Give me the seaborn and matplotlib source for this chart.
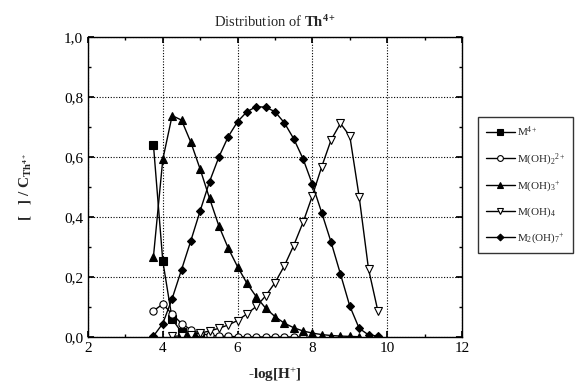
import matplotlib
matplotlib.use("Agg")
import matplotlib.pyplot as plt
import seaborn as sns
import pandas as pd
from matplotlib.ticker import MultipleLocator, FuncFormatter

# ---- data ----
ph_m4 = [3.75, 4.0, 4.25, 4.5, 4.75, 5.0]
m4 = [0.64, 0.253, 0.06, 0.016, 0.005, 0.001]

ph_oh2 = [3.75, 4.0, 4.25, 4.5, 4.75, 5.0, 5.25, 5.5, 5.75, 6.0, 6.25, 6.5, 6.75, 7.0, 7.25, 7.5, 7.75]
oh2 = [0.087, 0.11, 0.076, 0.045, 0.024, 0.012, 0.006, 0.003, 0.002, 0.001, 0.0, 0.0, 0.0, 0.0, 0.0, 0.0, 0.0]

ph_oh3 = [3.75, 4.0, 4.25, 4.5, 4.75, 5.0, 5.25, 5.5, 5.75, 6.0, 6.25, 6.5, 6.75, 7.0, 7.25, 7.5, 7.75, 8.0, 8.25, 8.5, 8.75, 9.0, 9.25]
oh3 = [0.268, 0.592, 0.738, 0.723, 0.649, 0.559, 0.462, 0.37, 0.296, 0.234, 0.179, 0.134, 0.096, 0.068, 0.046, 0.031, 0.02, 0.013, 0.008, 0.005, 0.003, 0.002, 0.001]

ph_oh4 = [4.25, 4.5, 4.75, 5.0, 5.25, 5.5, 5.75, 6.0, 6.25, 6.5, 6.75, 7.0, 7.25, 7.5, 7.75, 8.0, 8.25, 8.5, 8.75, 9.0, 9.25, 9.5, 9.75]
oh4 = [0.002, 0.004, 0.008, 0.013, 0.02, 0.029, 0.04, 0.055, 0.077, 0.102, 0.137, 0.181, 0.237, 0.305, 0.382, 0.471, 0.568, 0.657, 0.712, 0.67, 0.468, 0.227, 0.087]

ph_m2 = [3.75, 4.0, 4.25, 4.5, 4.75, 5.0, 5.25, 5.5, 5.75, 6.0, 6.25, 6.5, 6.75, 7.0, 7.25, 7.5, 7.75, 8.0, 8.25, 8.5, 8.75, 9.0, 9.25, 9.5, 9.75]
m2 = [0.003, 0.045, 0.128, 0.224, 0.321, 0.421, 0.518, 0.6, 0.668, 0.718, 0.751, 0.768, 0.766, 0.751, 0.714, 0.661, 0.594, 0.509, 0.414, 0.316, 0.21, 0.103, 0.029, 0.007, 0.003]

labels = ["M$^{4+}$", "M(OH)$_2$$^{2+}$", "M(OH)$_3$$^{+}$", "M(OH)$_4$", "M$_2$(OH)$_7$$^{+}$"]

x_ticks = [2, 4, 6, 8, 10, 12]
y_ticks = [0.0, 0.2, 0.4, 0.6, 0.8, 1.0]

sns.set_theme(style="ticks")
plt.rcParams["font.family"] = ["Liberation Serif", "DejaVu Serif"]
plt.rcParams["mathtext.fontset"] = "custom"
plt.rcParams["mathtext.rm"] = "Liberation Serif"
plt.rcParams["mathtext.it"] = "Liberation Serif:italic"
plt.rcParams["mathtext.bf"] = "Liberation Serif:bold"

fig = plt.figure(figsize=(5.83, 3.85), dpi=100)
ax = fig.add_axes([88 / 583, 48 / 385, (462 - 88) / 583, 300 / 385])

series = [
    (ph_m4, m4, "s", "black", labels[0]),
    (ph_oh2, oh2, "o", "white", labels[1]),
    (ph_oh3, oh3, "^", "black", labels[2]),
    (ph_oh4, oh4, "v", "white", labels[3]),
    (ph_m2, m2, "D", "black", labels[4]),
]
for xs, ys, mk, fc, lab in series:
    df = pd.DataFrame({"x": xs, "y": ys})
    ms = 4.3 if mk == "D" else 5.2
    sns.lineplot(data=df, x="x", y="y", ax=ax, color="black", lw=1.0,
                 marker=mk, markersize=ms, markerfacecolor=fc,
                 markeredgecolor="black", markeredgewidth=0.8, label=lab)

ax.set_xlim(2, 12)
ax.set_ylim(0, 1.0)
ax.set_xticks(x_ticks)
ax.set_yticks(y_ticks)
ax.xaxis.set_minor_locator(MultipleLocator(1))
ax.yaxis.set_minor_locator(MultipleLocator(0.1))
ax.yaxis.set_major_formatter(FuncFormatter(lambda v, p: f"{v:.1f}".replace(".", ",")))
ax.tick_params(which="both", direction="in", top=True, right=True, labelsize=11, colors="black")
ax.tick_params(which="major", length=4)
ax.tick_params(which="minor", length=2)
ax.grid(True, which="major", linestyle=(0, (1, 1.5)), color="black", lw=0.8)
for s in ax.spines.values():
    s.set_color("black")
    s.set_linewidth(1.0)

ax.set_xlabel("-log[H$^{+}$]", fontsize=11, fontweight="bold", labelpad=8)
ax.set_ylabel("[   ] / C$_{\\mathbf{Th^{4+}}}$", fontsize=11, fontweight="bold", labelpad=22)
ax.set_title("Distribution of $\\mathbf{Th^{4+}}$", fontsize=10.5, pad=7)

leg = ax.legend(loc="upper left", bbox_to_anchor=(478 / 583, 1 - 117 / 385),
                bbox_transform=fig.transFigure, frameon=True, fancybox=False,
                edgecolor="black", fontsize=8, handlelength=2.6, labelspacing=1.1,
                borderpad=0.7, borderaxespad=0, handletextpad=0.2, markerscale=0.8)
leg.get_frame().set_linewidth(1.0)

fig.savefig("out.png", dpi=100)
